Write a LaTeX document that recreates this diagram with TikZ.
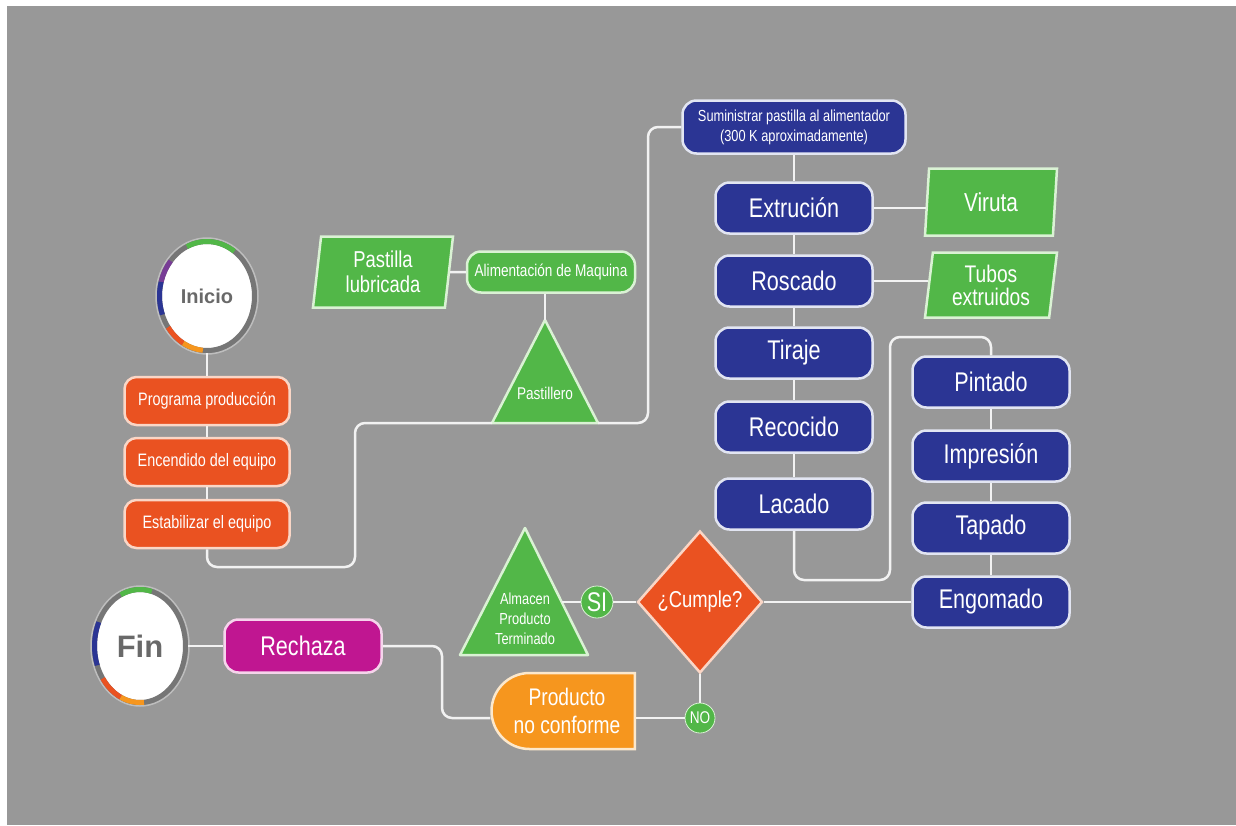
\documentclass[tikz,border=0pt]{standalone}
\usepackage{fontspec}
\setmainfont{Liberation Sans}
\newfontfamily\narrowsf[FakeStretch=0.8]{Liberation Sans}
\usetikzlibrary{shapes.geometric, shapes.misc, positioning}

\definecolor{bggray}{RGB}{152,152,152}
\definecolor{linec}{RGB}{242,242,242}
\definecolor{ringgray}{RGB}{118,118,118}
\definecolor{ringlight}{RGB}{190,190,190}
\definecolor{inigray}{RGB}{105,105,105}
\definecolor{orgc}{RGB}{234,82,33}
\definecolor{orgb}{RGB}{250,214,198}
\definecolor{bluec}{RGB}{43,53,148}
\definecolor{blueb}{RGB}{226,229,242}
\definecolor{greenc}{RGB}{82,183,72}
\definecolor{greenb}{RGB}{218,242,212}
\definecolor{magc}{RGB}{192,22,145}
\definecolor{magb}{RGB}{246,212,236}
\definecolor{yelc}{RGB}{246,150,30}
\definecolor{yelb}{RGB}{252,232,204}
\definecolor{purc}{RGB}{120,60,150}

\newcommand{\boxfont}[2]{\narrowsf\fontsize{#1}{#2}\selectfont}

\begin{document}
\begin{tikzpicture}[
  x=1pt, y=-1pt,
  link/.style={draw=linec, line width=2.5pt, rounded corners=10pt},
  startend/.style={ellipse, draw=ringgray, line width=5pt, fill=white, text=inigray, inner sep=0pt},
  prepbox/.style={rectangle, rounded corners=12pt, draw=orgb, line width=2.5pt, fill=orgc, text=white, minimum width=165pt, minimum height=48pt, font=\boxfont{18}{20}},
  procbox/.style={rectangle, rounded corners=14pt, draw=blueb, line width=2.5pt, fill=bluec, text=white, minimum width=157pt, minimum height=51pt, font=\boxfont{27}{29}},
  feedbox/.style={rectangle, rounded corners=14pt, draw=greenb, line width=2.5pt, fill=greenc, text=white, minimum width=168pt, minimum height=41pt, font=\boxfont{17}{19}},
  matbox/.style={trapezium, trapezium left angle=80, trapezium right angle=100, trapezium stretches body, draw=greenb, line width=2.5pt, fill=greenc, text=white, align=center, inner sep=2pt},
  triang/.style={draw=greenb, line width=2.5pt, fill=greenc, line join=round},
  answer/.style={circle, fill=greenc, draw=greenb, line width=0.8pt, text=white, inner sep=0pt}
]
  \useasboundingbox (0,0) rectangle (1236,825);
  \fill[bggray] (7,6) rectangle (1236,825);

  % inicio y preparacion
  \draw[ringlight, line width=1.5pt] (207,296) ellipse [x radius=51, y radius=58];
  \node[startend, minimum width=95pt, minimum height=109pt, font=\fontsize{20}{22}\selectfont\bfseries] (inicio) at (207,296) {Inicio};
  \foreach \a/\b/\c in {55/115/greenc, 140/165/purc, 165/200/bluec, 215/240/orgc, 240/265/yelc}
    \draw[\c, line width=5pt] (inicio.center) ++(-\a:47.5 and 54.5) arc[start angle=-\a, end angle=-\b, x radius=47.5, y radius=54.5];
  \node[prepbox] (prog) at (207,401) {Programa producción};
  \node[prepbox] (enc) at (207,462) {Encendido del equipo};
  \node[prepbox] (est) at (207,524) {Estabilizar el equipo};

  % alimentacion
  \node[matbox, minimum width=140pt, minimum height=71pt, font=\boxfont{23}{25}] (pastilla) at (383,272) {Pastilla\\lubricada};
  \node[feedbox] (alim) at (551,272) {Alimentación de Maquina};
  \coordinate (pas-l) at (492,423);
  \coordinate (pas-r) at (598,423);
  \coordinate (pas-t) at (545,320);
  \draw[triang] (pas-l) -- (pas-t) -- (pas-r) -- cycle;
  \node[text=white, font=\boxfont{17}{19}] (pastillero) at (545,393) {Pastillero};

  % proceso principal
  \node[procbox, minimum width=223pt, minimum height=53pt, align=center, font=\boxfont{16}{20}] (sum) at (794,127) {Suministrar pastilla al alimentador\\(300 K aproximadamente)};
  \node[procbox] (ext) at (794,208) {Extrución};
  \node[procbox] (ros) at (794,281) {Roscado};
  \node[procbox] (tir) at (794,353) {Tiraje};
  \node[procbox] (rec) at (794,427) {Recocido};
  \node[procbox] (lac) at (794,504) {Lacado};
  \node[matbox, minimum width=132pt, minimum height=67pt, font=\boxfont{26}{28}] (viruta) at (991,202) {Viruta};
  \node[matbox, minimum width=132pt, minimum height=65pt, font=\boxfont{24}{23}] (tubos) at (991,285) {Tubos\\extruidos};
  \node[procbox] (pin) at (991,382) {Pintado};
  \node[procbox] (imp) at (991,456) {Impresión};
  \node[procbox] (tap) at (991,528) {Tapado};
  \node[procbox] (eng) at (991,602) {Engomado};

  % control
  \node[diamond, minimum width=125pt, minimum height=142pt, inner sep=0pt, draw=orgb, line width=2.5pt, fill=orgc, text=white, font=\boxfont{23}{25}] (cumple) at (700,602) {¿Cumple?};
  \node[answer, minimum size=32pt, font=\boxfont{27}{29}] (si) at (597,602) {SI};
  \coordinate (alm-l) at (460,655);
  \coordinate (alm-t) at (525,528);
  \coordinate (alm-r) at (588,655);
  \coordinate (alm-e) at (562,602);
  \draw[triang] (alm-l) -- (alm-t) -- (alm-r) -- cycle;
  \node[text=white, align=center, font=\boxfont{16}{20}] (almacen) at (525,619) {Almacen\\Producto\\Terminado};
  \node[answer, minimum size=30pt, font=\boxfont{17}{19}] (no) at (700,718) {NO};
  \node[rounded rectangle, rounded rectangle right arc=none, minimum width=150pt, minimum height=76pt, draw=yelb, line width=2.5pt, fill=yelc, text=white, align=center, font=\boxfont{24}{28}] (prod) at (567,711) {Producto\\no conforme};
  \node[rectangle, rounded corners=14pt, minimum width=157pt, minimum height=53pt, draw=magb, line width=2.5pt, fill=magc, text=white, font=\boxfont{27}{29}] (rech) at (303,646) {Rechaza};

  % fin
  \draw[ringlight, line width=1.5pt] (140,646) ellipse [x radius=49, y radius=60];
  \node[startend, minimum width=91pt, minimum height=113pt, font=\fontsize{31}{33}\selectfont\bfseries] (fin) at (140,646) {Fin};
  \foreach \a/\b/\c in {75/115/greenc, 155/200/bluec, 215/245/orgc, 245/275/yelc}
    \draw[\c, line width=5pt] (fin.center) ++(-\a:45.5 and 56.5) arc[start angle=-\a, end angle=-\b, x radius=45.5, y radius=56.5];

  % conexiones
  \draw[link] (inicio) -- (prog);
  \draw[link] (prog) -- (enc);
  \draw[link] (enc) -- (est);
  \draw[link] (est.south) |- (355,567) |- (pas-l);
  \draw[link] (pastilla.east) -- (alim.west);
  \draw[link] (pas-t |- alim.south) -- (pas-t);
  \draw[link] (pas-r) -| (648,300) |- (sum.west);
  \draw[link] (sum) -- (ext);
  \draw[link] (ext) -- (ros);
  \draw[link] (ros) -- (tir);
  \draw[link] (tir) -- (rec);
  \draw[link] (rec) -- (lac);
  \draw[link] (ext.east) -- (ext.east -| viruta.west);
  \draw[link] (ros.east) -- (ros.east -| tubos.west);
  \draw[link] (lac.south) |- (890,580) |- (991,337) -- (pin.north);
  \draw[link] (pin) -- (imp);
  \draw[link] (imp) -- (tap);
  \draw[link] (tap) -- (eng);
  \draw[link] (eng.west) -- (cumple.east);
  \draw[link] (cumple.west) -- (si.east);
  \draw[link] (si.west) -- (alm-e);
  \draw[link] (cumple.south) -- (no.north);
  \draw[link] (no.west) -- (no.west -| prod.east);
  \draw[link] (prod.west |- no.west) -| (442,680) |- (rech.east);
  \draw[link] (fin.east) -- (rech.west);
\end{tikzpicture}
\end{document}
